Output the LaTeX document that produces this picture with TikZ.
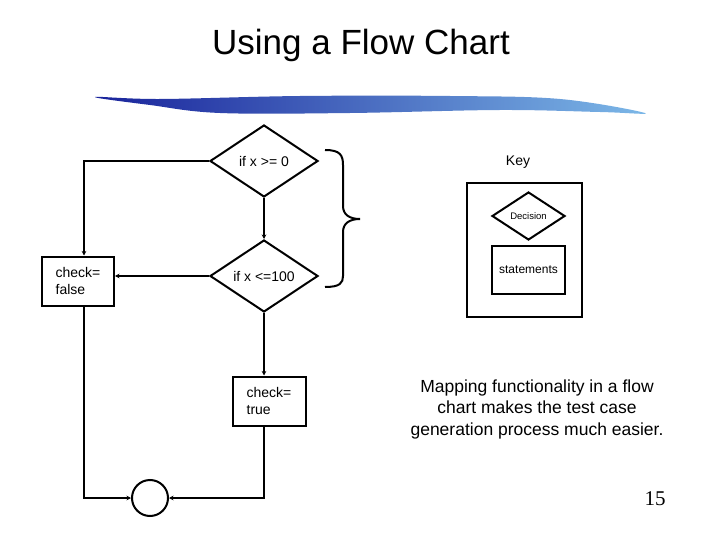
\documentclass[tikz,border=0pt]{standalone}
\usepackage{fontspec}
\setmainfont{Liberation Sans}
\newfontfamily\seriffont{Liberation Serif}
\usetikzlibrary{shapes.geometric,arrows.meta,calc}
\definecolor{brushdark}{RGB}{25,35,155}
\definecolor{brushlight}{RGB}{125,185,232}
\tikzset{
  flow/.style={line width=2pt},
  arr/.style={flow,-{Stealth[length=4.5pt,width=4.5pt]}},
  decis/.style={draw,line width=2pt,diamond,minimum width=108pt,minimum height=72pt,inner sep=0pt,font=\fontsize{14}{17}\selectfont},
  stmt/.style={draw,line width=2pt,rectangle,minimum width=72pt,minimum height=49pt,inner sep=0pt,align=left,font=\fontsize{14}{17}\selectfont},
  keyshape/.style={draw,line width=2pt,inner sep=0pt},
}
\begin{document}
\begin{tikzpicture}[x=1pt,y=-1pt]
\useasboundingbox (0,0) rectangle (720,540);
% title
\node[anchor=base,font=\fontsize{35}{40}\selectfont] (title) at (361,55) {Using a Flow Chart};
% brush stroke
\shade[left color=brushdark,right color=brushlight,draw=none]
  plot[smooth cycle,tension=0.6] coordinates {(95,97) (160,99) (300,96) (450,96) (560,99) (645,113) (600,112) (500,110) (350,113) (220,113) (150,105)};
% flow chart nodes
\node[decis] (d1) at (264,161) {if x >= 0};
\node[decis] (d2) at (264,276) {if x <=100};
\node[stmt] (cf) at (78,281) {check=\\false};
\node[stmt,minimum width=73pt] (ct) at (269,401) {check=\\true};
\node[draw,line width=2pt,circle,minimum size=36pt,inner sep=0pt] (circ) at (150,498) {};
% connectors
\draw[arr] (d1.west) -| ([xshift=6pt]cf.north);
\draw[arr] (d1.south) -- (d2.north);
\draw[arr] (d2.west) -- (d2.west -| cf.east);
\draw[arr] (d2.south) -- (d2.south |- ct.north);
\draw[arr] (d2.south |- ct.south) |- (circ.east);
\draw[arr] ([xshift=6pt]cf.south) |- (circ.west);
% brace
\draw[line width=2pt] (325,150) .. controls (340,150) and (343,155) .. (343,165) -- (343,206)
  .. controls (343,215) and (350,219) .. (360,219)
  .. controls (350,219) and (343,223) .. (343,232) -- (343,276)
  .. controls (343,283) and (340,287) .. (325,287);
% key
\node[font=\fontsize{14}{17}\selectfont] (key) at (518,162) {Key};
\node[keyshape,minimum width=115pt,minimum height=134pt] (keybox) at (524.5,250) {};
\node[keyshape,diamond,minimum width=73pt,minimum height=48pt,font=\fontsize{9.5}{11}\selectfont] (kd) at (528.5,216) {Decision};
\node[keyshape,minimum width=73pt,minimum height=48pt,font=\fontsize{12}{14}\selectfont] (ks) at (528.5,270) {statements};
% text
\node[align=center,font=\fontsize{17.5}{21.5}\selectfont] (msg) at (537,409) {Mapping functionality in a flow\\chart makes the test case\\generation process much easier.};
\node[font=\seriffont\fontsize{21}{24}\selectfont] (pg) at (655,499) {15};
\end{tikzpicture}
\end{document}
